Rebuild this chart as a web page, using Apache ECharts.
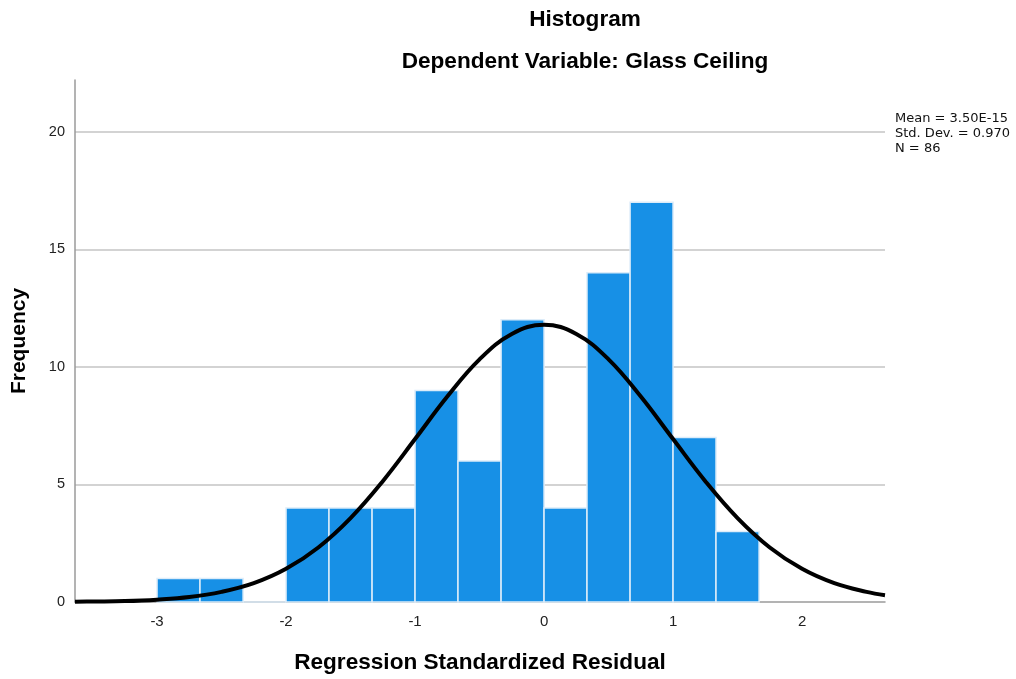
<!DOCTYPE html>
<html>
<head>
<meta charset="utf-8">
<script src="https://cdn.jsdelivr.net/npm/echarts@6/dist/echarts.min.js"></script>
<style>html,body{margin:0;padding:0;background:#fff}#c{width:1016px;height:679px}</style>
</head>
<body>
<div id="c"></div>
<script>
// Histogram bins (left/right edges) and frequencies
const binLeft  = [-3.000, -2.667, -2.333, -2.000, -1.667, -1.333, -1.000, -0.667, -0.333, 0.000, 0.333, 0.667, 1.000, 1.333];
const binRight = [-2.667, -2.333, -2.000, -1.667, -1.333, -1.000, -0.667, -0.333, 0.000, 0.333, 0.667, 1.000, 1.333, 1.667];
const counts   = [1, 1, 0, 4, 4, 4, 9, 6, 12, 4, 14, 17, 7, 3];
// Normal curve
const curveX = [-3.636, -3.5, -3.25, -3.0, -2.75, -2.5, -2.25, -2.0, -1.75, -1.5, -1.25, -1.0, -0.75, -0.5, -0.25, 0.0, 0.25, 0.5, 0.75, 1.0, 1.25, 1.5, 1.75, 2.0, 2.25, 2.5, 2.643];
const curveY = [0.01, 0.02, 0.04, 0.10, 0.21, 0.43, 0.80, 1.41, 2.32, 3.57, 5.14, 6.93, 8.74, 10.32, 11.40, 11.79, 11.40, 10.32, 8.74, 6.93, 5.14, 3.57, 2.32, 1.41, 0.80, 0.43, 0.29];
const xTicks = [-3, -2, -1, 0, 1, 2];
const statsLines = ['Mean = 3.50E-15', 'Std. Dev. = 0.970', 'N = 86'];

const barData = counts.map((c, i) => [binLeft[i], binRight[i], c]);
const curveData = curveX.map((x, i) => [x, curveY[i]]);

const titleFont = {fontFamily: 'Liberation Sans', fontSize: 22.6, fontWeight: 'bold', fill: '#000'};

const chart = echarts.init(document.getElementById('c'), null, {renderer: 'canvas'});
chart.setOption({
  animation: false,
  backgroundColor: '#fff',
  graphic: [
    {type: 'text', x: 585, y: 20, style: Object.assign({text: 'Histogram', align: 'center', verticalAlign: 'middle'}, titleFont)},
    {type: 'text', x: 585, y: 62, style: Object.assign({text: 'Dependent Variable: Glass Ceiling', align: 'center', verticalAlign: 'middle'}, titleFont)},
    {type: 'text', x: 895, y: 111,
     style: {text: statsLines.join('\n'), fontFamily: 'DejaVu Sans', fontSize: 13, lineHeight: 15, fill: '#111'}}
  ],
  grid: {left: 75, right: 131, top: 80, bottom: 76},
  xAxis: {
    type: 'value', min: -3.636, max: 2.643,
    name: 'Regression Standardized Residual', nameLocation: 'middle', nameGap: 49,
    nameTextStyle: {fontFamily: 'Liberation Sans', fontSize: 22.6, fontWeight: 'bold', color: '#000'},
    axisLine: {show: true, onZero: false, lineStyle: {color: '#9a9a9a', width: 1.5}},
    axisTick: {show: false},
    axisLabel: {customValues: xTicks, fontFamily: 'Liberation Sans', fontSize: 15, color: '#222', margin: 12},
    splitLine: {show: false}
  },
  yAxis: {
    type: 'value', min: 0, max: 22.2, interval: 5,
    name: 'Frequency', nameLocation: 'middle', nameGap: 45,
    nameTextStyle: {fontFamily: 'Liberation Sans', fontSize: 21, fontWeight: 'bold', color: '#000'},
    axisLine: {show: true, onZero: false, lineStyle: {color: '#9a9a9a', width: 1.5}},
    axisTick: {show: false},
    axisLabel: {fontFamily: 'Liberation Sans', fontSize: 14.5, color: '#222', margin: 10, showMaxLabel: false},
    splitLine: {show: true, showMinLine: false, showMaxLine: false, lineStyle: {color: '#c4c4c4', width: 1.5}}
  },
  series: [
    {
      type: 'custom',
      data: barData,
      encode: {x: [0, 1], y: 2},
      renderItem: function (params, api) {
        const p0 = api.coord([api.value(0), api.value(2)]);
        const p1 = api.coord([api.value(1), 0]);
        return {
          type: 'rect',
          shape: {x: p0[0], y: p0[1], width: p1[0] - p0[0], height: p1[1] - p0[1]},
          style: {fill: '#1790e6', stroke: '#dcecf9', lineWidth: 1.5}
        };
      },
      z: 2
    },
    {
      type: 'line', data: curveData, smooth: 0.4, showSymbol: false,
      lineStyle: {color: '#000', width: 4}, z: 3
    }
  ]
});
</script>
</body>
</html>
